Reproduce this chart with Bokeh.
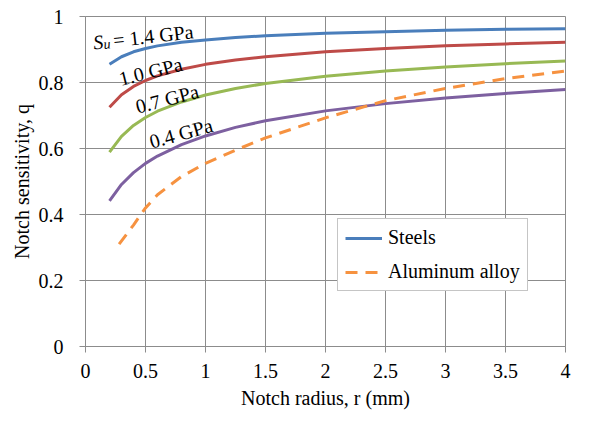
import math
from bokeh.plotting import figure
from bokeh.models import Range1d, FixedTicker
from bokeh.core.properties import value
from bokeh.embed import file_html
from bokeh.resources import INLINE

# notch radius (mm) and notch sensitivity
r_steel = [0.2, 0.3, 0.4, 0.5, 0.6, 0.8, 1.0, 1.25, 1.5, 2.0, 2.5, 3.0, 3.5, 4.0]
q_14 = [0.855, 0.878, 0.893, 0.903, 0.911, 0.922, 0.929, 0.936, 0.942, 0.949, 0.954, 0.958, 0.961, 0.963]
q_10 = [0.725, 0.763, 0.788, 0.806, 0.820, 0.840, 0.855, 0.868, 0.878, 0.893, 0.903, 0.911, 0.917, 0.922]
q_07 = [0.589, 0.637, 0.670, 0.694, 0.713, 0.741, 0.762, 0.782, 0.797, 0.819, 0.835, 0.847, 0.857, 0.865]
q_04 = [0.441, 0.491, 0.527, 0.555, 0.577, 0.612, 0.638, 0.664, 0.684, 0.714, 0.736, 0.753, 0.767, 0.779]

r_alu = [0.28, 0.4, 0.5, 0.6, 0.8, 1.0, 1.25, 1.5, 2.0, 2.5, 3.0, 3.5, 4.0]
q_alu = [0.31, 0.368, 0.42, 0.46, 0.515, 0.555, 0.595, 0.632, 0.693, 0.745, 0.782, 0.812, 0.835]

x_ticks = [0, 0.5, 1, 1.5, 2, 2.5, 3, 3.5, 4]
x_tick_labels = ["0", "0.5", "1", "1.5", "2", "2.5", "3", "3.5", "4"]
y_ticks = [0, 0.2, 0.4, 0.6, 0.8, 1]
y_tick_labels = ["0", "0.2", "0.4", "0.6", "0.8", "1"]

FONT = "Liberation Serif"
FS = "20px"
GRID = "#8c8c8c"
BLUE, RED, GREEN, PURPLE, ORANGE = "#4a7ebb", "#be4b48", "#98b954", "#7d60a0", "#f69240"

p = figure(width=581, height=420, output_backend="svg", toolbar_location=None,
           x_range=Range1d(0, 4), y_range=Range1d(0, 1),
           min_border_left=85, min_border_right=16, min_border_top=16, min_border_bottom=74,
           x_axis_label="Notch radius, r (mm)", y_axis_label="Notch sensitivity, q")
p.background_fill_color = "white"
p.outline_line_color = GRID
p.outline_line_width = 1

p.xaxis.ticker = FixedTicker(ticks=x_ticks)
p.yaxis.ticker = FixedTicker(ticks=y_ticks)
p.xaxis.major_label_overrides = dict(zip(x_ticks, x_tick_labels))
p.yaxis.major_label_overrides = dict(zip(y_ticks, y_tick_labels))

for ax in p.xaxis + p.yaxis:
    ax.axis_line_color = GRID
    ax.major_tick_line_color = GRID
    ax.minor_tick_line_color = None
    ax.major_tick_in = 0
    ax.major_tick_out = 6
    ax.major_label_text_font = FONT
    ax.major_label_text_font_size = FS
    ax.major_label_text_color = "black"
    ax.axis_label_text_font = FONT
    ax.axis_label_text_font_size = FS
    ax.axis_label_text_font_style = "normal"
    ax.axis_label_text_color = "black"
p.xaxis.major_label_standoff = 11
p.xaxis.axis_label_standoff = 6
p.yaxis.major_label_standoff = 16
p.yaxis.axis_label_standoff = 3

p.grid.grid_line_color = GRID
p.grid.grid_line_width = 1
p.grid.grid_line_alpha = 1

p.line(r_steel, q_14, line_color=BLUE, line_width=3, legend_label="Steels")
p.line(r_steel, q_10, line_color=RED, line_width=3)
p.line(r_steel, q_07, line_color=GREEN, line_width=3)
p.line(r_steel, q_04, line_color=PURPLE, line_width=3)
p.line(r_alu, q_alu, line_color=ORANGE, line_width=3, line_dash="12 8",
       legend_label="Aluminum alloy")

# curve labels, rotated along the curves
def put(x, y, txt, deg, size=FS, style="normal", along=0.0, down=0.0):
    a = math.radians(deg)
    xo = along * math.cos(a) + down * math.sin(a)
    yo = -along * math.sin(a) + down * math.cos(a)
    p.text([x], [y], text=[txt], angle=a, x_offset=xo, y_offset=yo,
           text_font=value(FONT), text_font_size=size, text_font_style=style,
           text_color="black", text_baseline="alphabetic", text_align="left")

put(0.065, 0.921, "S", 6.5, style="italic")
put(0.065, 0.921, "u", 6.5, size="14px", style="italic", along=10, down=3)
put(0.065, 0.921, "= 1.4 GPa", 6.5, along=20)
put(0.282, 0.810, "1.0 GPa", 14)
put(0.421, 0.726, "0.7 GPa", 14.5)
put(0.5375, 0.620, "0.4 GPa", 15.5)

lg = p.legend[0]
lg.location = (252, 55)
lg.label_text_font = FONT
lg.label_text_font_size = FS
lg.label_text_color = "black"
lg.border_line_color = GRID
lg.border_line_width = 1
lg.background_fill_alpha = 1
lg.glyph_width = 37
lg.glyph_height = 20
lg.label_height = 20
lg.label_standoff = 6
lg.padding = 7
lg.spacing = 11
lg.margin = 0

open("out.html", "w").write(file_html(p, INLINE))
